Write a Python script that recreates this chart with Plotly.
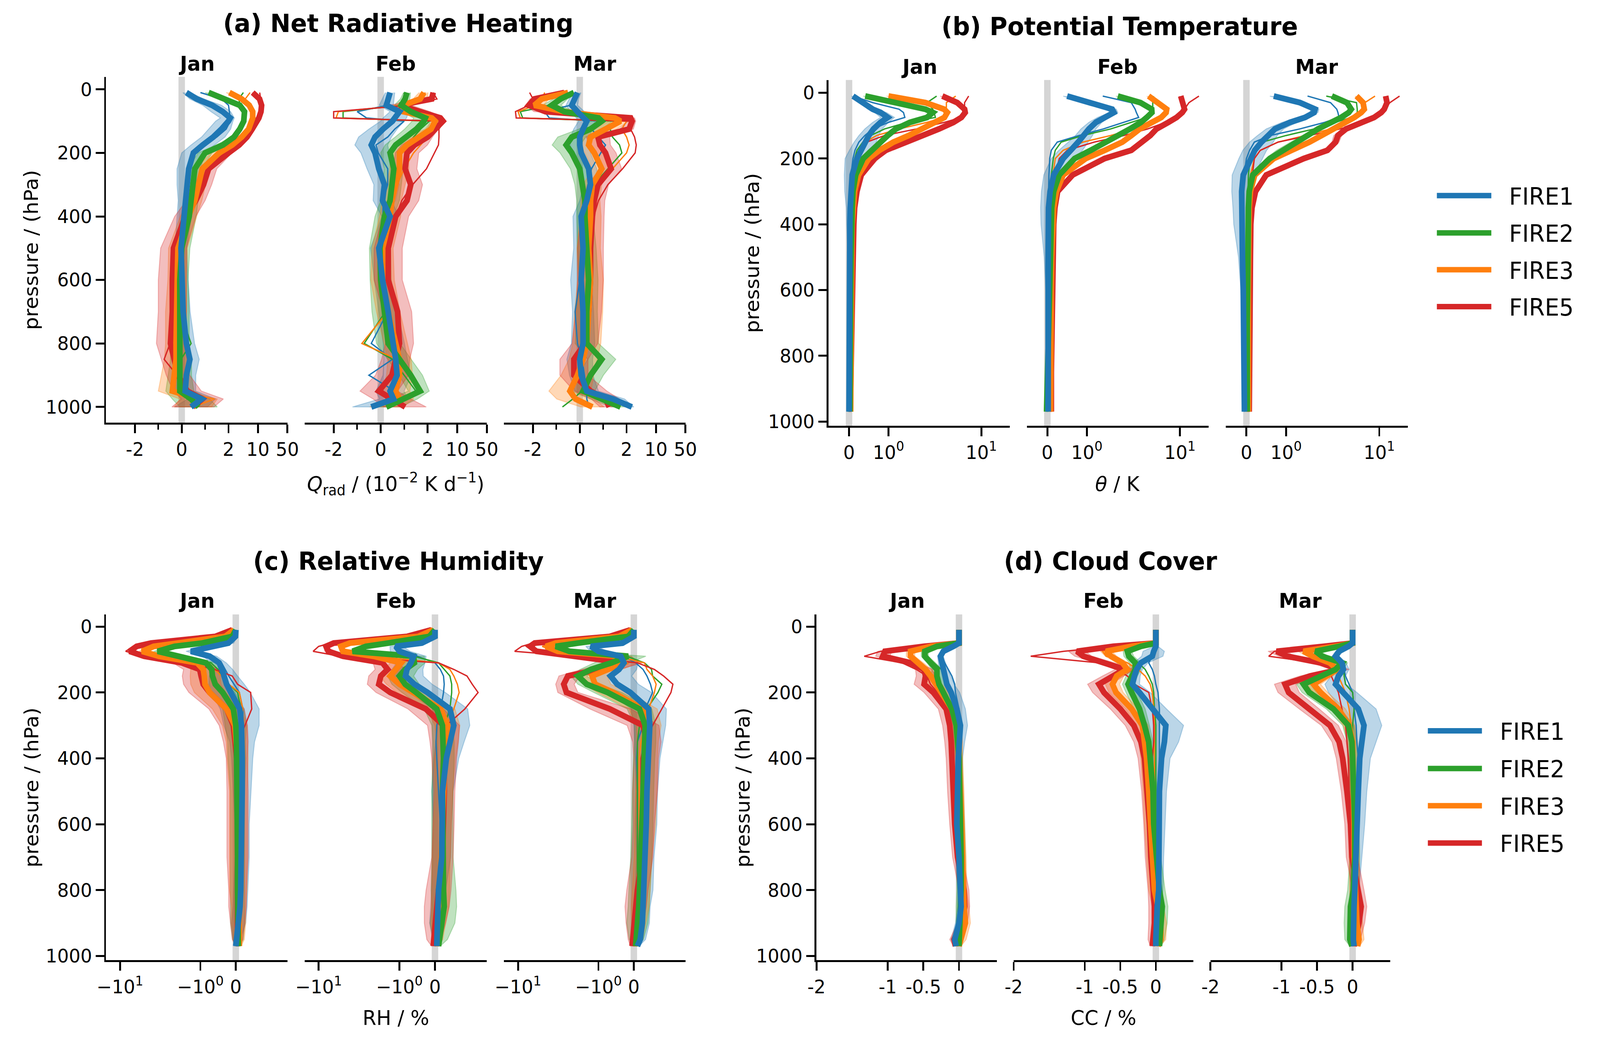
import numpy as np
import plotly.graph_objects as go

W, H = 4205, 2683
FONT = "DejaVu Sans"

SERIES = ["FIRE1", "FIRE2", "FIRE3", "FIRE5"]
COLORS = [(31, 119, 180), (44, 160, 44), (255, 127, 14), (214, 39, 40)]
MONTHS = ["Jan", "Feb", "Mar"]

# pressure levels (hPa)
LEV_A = [10, 30, 50, 70, 90, 100, 125, 150, 175, 200, 250, 300, 350, 400, 500, 600, 700, 800, 850, 900, 950, 975, 1000]
LEV_B = [10, 30, 50, 60, 75, 90, 110, 130, 150, 175, 200, 250, 300, 350, 400, 500, 600, 700, 800, 850, 900, 950, 970]

# ---- (a) net radiative heating, 1e-2 K/d ; rows = FIRE1, FIRE2, FIRE3, FIRE5
QRAD_JAN_MEAN = [
    [0.2, 0.64, 1.3, 1.75, 2.2, 2.0, 1.7, 1.35, 0.9, 0.5, 0.3, 0.25, 0.2, 0.1, -0.03, 0.03, 0.06, 0.2, 0.35, 0.2, 0.15, 0.85, 0.4],
    [1.15, 1.9, 3.7, 4.8, 4.8, 4.6, 3.7, 2.7, 1.76, 1.0, 0.56, 0.48, 0.45, 0.32, 0.0, -0.08, -0.08, -0.08, -0.03, -0.08, -0.08, 0.4, 0.72],
    [2.1, 4.1, 6.2, 7.5, 7.5, 7.2, 6.0, 4.1, 2.45, 1.6, 0.88, 0.72, 0.56, 0.29, -0.16, -0.19, -0.24, -0.24, -0.24, -0.32, -0.4, 0.72, 0.48],
    [7.5, 10.9, 12.2, 11.8, 10.5, 9.6, 7.3, 5.5, 3.6, 2.0, 1.15, 0.93, 0.6, 0.15, -0.35, -0.4, -0.4, -0.48, -0.32, -0.16, 0.24, 0.88, 0.48],
]
QRAD_JAN_THIN = [
    [0.8, 1.7, 2.0, 2.1, 2.2, 2.2, 1.9, 1.5, 1.0, 0.55, 0.3, 0.25, 0.2, 0.1, -0.03, 0.03, 0.06, 0.2, 0.35, 0.2, 0.1, 0.7, 0.4],
    [4.5, 3.5, 3.8, 4.8, 4.8, 4.6, 3.7, 2.7, 1.76, 1.0, 0.56, 0.48, 0.45, 0.32, 0.0, -0.08, -0.08, 0.4, -0.03, -0.08, -0.08, 0.4, 0.72],
    [6.5, 5.0, 6.2, 7.5, 7.5, 7.2, 6.0, 4.1, 2.45, 1.6, 0.88, 0.72, 0.56, 0.29, -0.16, -0.19, -0.24, -0.24, -0.24, -0.32, -0.4, 1.4, 0.48],
    [11.0, 11.5, 12.2, 11.8, 10.5, 9.6, 7.3, 5.5, 3.6, 2.0, 1.15, 0.93, 0.6, 0.15, -0.35, -0.4, -0.4, -0.5, -0.75, -0.2, 0.24, 0.88, 0.48],
]
QRAD_JAN_SPREAD = [
    [0.15, 0.3, 0.4, 0.5, 0.55, 0.55, 0.55, 0.5, 0.5, 0.5, 0.5, 0.45, 0.35, 0.3, 0.25, 0.25, 0.3, 0.35, 0.4, 0.4, 0.45, 0.6, 0.7],
    [0.15, 0.2, 0.3, 0.35, 0.4, 0.4, 0.35, 0.3, 0.3, 0.3, 0.3, 0.25, 0.25, 0.3, 0.35, 0.35, 0.4, 0.4, 0.45, 0.5, 0.6, 0.8, 0.8],
    [0.2, 0.3, 0.4, 0.5, 0.5, 0.5, 0.5, 0.45, 0.4, 0.35, 0.3, 0.3, 0.3, 0.35, 0.4, 0.4, 0.45, 0.45, 0.5, 0.55, 0.6, 0.8, 0.8],
    [0.3, 0.5, 0.6, 0.6, 0.6, 0.6, 0.6, 0.5, 0.45, 0.4, 0.35, 0.35, 0.4, 0.45, 0.55, 0.6, 0.6, 0.6, 0.55, 0.5, 0.6, 0.9, 0.9],
]
QRAD_FEB_MEAN = [
    [0.4, 0.32, 0.24, 0.8, 0.6, 0.5, 0.1, -0.24, -0.4, -0.24, -0.08, 0.16, 0.08, 0.4, -0.08, 0.08, 0.32, 0.56, 0.64, 0.7, 0.4, 0.55, -0.4],
    [1.12, 1.04, 0.88, 1.28, 1.9, 1.84, 1.52, 1.12, 0.64, 0.4, 0.56, 0.48, 0.4, 0.16, -0.03, 0.0, 0.13, 0.32, 0.8, 1.28, 1.68, 0.96, 0.24],
    [1.84, 1.68, 0.96, 0.96, 2.5, 3.0, 2.4, 1.6, 1.12, 0.8, 0.8, 0.64, 0.48, 0.4, 0.08, 0.08, 0.32, 0.64, 0.8, 0.8, 0.64, 0.8, 0.24],
    [2.7, 2.5, 0.8, 1.76, 4.0, 4.6, 3.0, 2.0, 1.44, 1.12, 1.04, 1.28, 1.12, 0.64, 0.32, 0.32, 0.72, 0.8, 0.64, 0.48, -0.08, 0.48, 1.04],
]
QRAD_FEB_THIN = [
    [0.4, 0.32, 0.3, -1.0, -0.6, 1.0, 0.6, 0.3, -0.2, -0.1, 0.3, 0.3, 0.1, 0.1, 0.0, 0.1, 0.3, -0.4, 0.5, -0.5, 0.6, 0.5, -0.3],
    [1.0, 1.0, 0.9, -1.6, -1.6, 2.2, 1.7, 1.4, 1.2, 0.9, 0.7, 0.5, 0.45, 0.2, 0.0, 0.0, 0.2, -0.7, 0.5, 1.0, 1.5, 0.9, 0.3],
    [1.9, 1.7, 1.0, -1.8, -1.9, 3.3, 2.8, 2.0, 1.7, 1.4, 1.0, 0.7, 0.5, 0.4, 0.1, 0.1, 0.3, -0.8, 0.7, 0.8, 0.6, 0.8, 0.3],
    [2.7, 3.3, 1.2, -2.0, -2.0, 4.8, 3.7, 3.7, 3.6, 2.9, 1.95, 1.36, 0.9, 0.64, 0.3, 0.3, 0.7, 0.8, 0.6, 0.4, -0.1, 0.5, 1.0],
]
QRAD_FEB_SPREAD = [
    [0.2, 0.25, 0.3, 0.4, 0.5, 0.5, 0.6, 0.7, 0.7, 0.6, 0.5, 0.45, 0.4, 0.35, 0.35, 0.35, 0.4, 0.45, 0.5, 0.6, 0.6, 0.6, 0.8],
    [0.15, 0.2, 0.3, 0.4, 0.5, 0.5, 0.5, 0.5, 0.45, 0.4, 0.4, 0.4, 0.4, 0.4, 0.45, 0.45, 0.5, 0.5, 0.5, 0.5, 0.5, 0.6, 0.6],
    [0.2, 0.3, 0.4, 0.4, 0.5, 0.5, 0.5, 0.5, 0.45, 0.4, 0.4, 0.4, 0.4, 0.45, 0.45, 0.5, 0.5, 0.5, 0.5, 0.55, 0.6, 0.6, 0.7],
    [0.3, 0.4, 0.5, 0.5, 0.6, 0.6, 0.6, 0.6, 0.55, 0.5, 0.5, 0.5, 0.5, 0.55, 0.6, 0.6, 0.6, 0.6, 0.6, 0.7, 0.8, 0.8, 0.9],
]
QRAD_MAR_MEAN = [
    [-0.1, -0.25, -0.34, -0.1, 0.2, 0.3, 0.14, 0.0, 0.0, 0.06, 0.38, 0.46, 0.3, 0.06, 0.14, 0.06, 0.14, 0.14, 0.0, 0.06, 0.3, 1.42, 2.67],
    [-0.25, -0.82, -1.2, -0.66, 0.8, 0.94, 0.46, -0.34, -0.58, -0.34, 0.0, 0.14, 0.22, 0.22, 0.3, 0.38, 0.3, 0.3, 0.94, 0.46, 0.14, 0.94, 1.74],
    [-0.5, -1.62, -1.94, -0.66, 1.5, 1.74, 1.1, 0.46, 0.38, 0.62, 0.94, 0.54, 0.46, 0.46, 0.38, 0.46, 0.38, 0.3, 0.14, -0.1, -0.42, -0.18, 0.54],
    [-0.66, -1.94, -2.5, -1.46, 2.5, 2.7, 2.3, 0.78, 0.86, 1.1, 1.34, 0.78, 0.62, 0.54, 0.46, 0.46, 0.38, 0.22, -0.25, -0.25, 0.46, 1.1, 1.26],
]
QRAD_MAR_THIN = [
    [-0.2, -0.3, -0.4, -1.5, -1.3, 0.8, 0.5, 0.8, 1.1, 0.9, 0.5, 0.35, 0.2, 0.1, 0.14, 0.0, -0.2, -0.1, 0.1, 0.2, 0.3, 0.3, 0.4],
    [-0.3, -0.8, -1.2, -4.0, -3.5, 1.5, 1.3, 1.4, 1.7, 1.8, 1.2, 0.6, 0.4, 0.3, 0.3, 0.35, 0.3, 0.3, 0.8, 0.4, 0.1, -0.3, -0.74],
    [-1.5, -1.6, -1.9, -4.5, -4.0, 2.0, 1.8, 2.0, 2.3, 2.0, 1.4, 0.7, 0.5, 0.46, 0.38, 0.46, 0.38, 0.3, 0.14, -0.1, -0.42, -0.18, 0.54],
    [-2.4, -2.0, -2.5, -5.2, -5.0, 2.7, 2.5, 3.1, 3.4, 3.2, 1.83, 1.2, 0.8, 0.6, 0.46, 0.46, 0.38, 0.22, -0.25, -0.25, 0.46, 1.1, 1.26],
]
QRAD_MAR_SPREAD = [
    [0.15, 0.2, 0.25, 0.3, 0.35, 0.35, 0.4, 0.4, 0.4, 0.4, 0.35, 0.3, 0.3, 0.35, 0.4, 0.45, 0.45, 0.5, 0.55, 0.5, 0.5, 0.5, 0.3],
    [0.15, 0.3, 0.4, 0.4, 0.45, 0.45, 0.5, 0.6, 0.6, 0.5, 0.4, 0.35, 0.35, 0.35, 0.4, 0.4, 0.45, 0.5, 0.6, 0.55, 0.5, 0.5, 0.4],
    [0.2, 0.3, 0.4, 0.4, 0.5, 0.5, 0.5, 0.45, 0.4, 0.4, 0.4, 0.4, 0.4, 0.45, 0.5, 0.55, 0.6, 0.6, 0.6, 0.7, 0.9, 0.8, 0.5],
    [0.2, 0.4, 0.5, 0.5, 0.6, 0.6, 0.6, 0.5, 0.45, 0.45, 0.45, 0.45, 0.45, 0.5, 0.55, 0.55, 0.55, 0.55, 0.6, 0.6, 0.7, 0.6, 0.4],
]

# ---- (b) potential temperature, K
THETA_JAN_MEAN = [
    [0.1, 0.36, 0.6, 0.8, 0.98, 0.8, 0.62, 0.5, 0.41, 0.31, 0.2, 0.08, 0.04, 0.03, 0.02, 0.02, 0.01, 0.0, -0.01, -0.01, 0.0, 0.0, 0.0],
    [0.41, 1.13, 2.5, 3.0, 2.6, 1.7, 1.2, 0.98, 0.79, 0.55, 0.36, 0.17, 0.1, 0.08, 0.06, 0.05, 0.04, 0.03, 0.02, 0.02, 0.02, 0.02, 0.02],
    [1.0, 2.5, 3.97, 4.3, 4.0, 3.2, 2.3, 1.65, 1.13, 0.77, 0.5, 0.24, 0.14, 0.1, 0.08, 0.07, 0.06, 0.05, 0.05, 0.04, 0.04, 0.04, 0.04],
    [3.8, 5.5, 6.6, 6.7, 6.1, 5.0, 3.5, 2.3, 1.43, 0.93, 0.65, 0.31, 0.2, 0.14, 0.12, 0.1, 0.08, 0.06, 0.05, 0.04, 0.03, 0.03, 0.03],
]
THETA_JAN_THIN = [
    [0.1, 0.6, 1.3, 1.45, 1.5, 1.0, 0.6, 0.4, 0.25, 0.15, 0.1, 0.05, 0.04, 0.03, 0.02, 0.02, 0.01, 0.0, -0.01, -0.01, 0.0, 0.0, 0.0],
    [3.3, 2.6, 3.0, 3.1, 3.2, 1.6, 0.9, 0.55, 0.35, 0.2, 0.14, 0.1, 0.08, 0.07, 0.06, 0.05, 0.04, 0.03, 0.02, 0.02, 0.02, 0.02, 0.02],
    [5.3, 4.2, 4.2, 4.3, 4.0, 2.6, 1.3, 0.7, 0.4, 0.25, 0.18, 0.12, 0.1, 0.09, 0.08, 0.07, 0.06, 0.05, 0.05, 0.04, 0.04, 0.04, 0.04],
    [7.3, 6.6, 6.6, 6.7, 6.1, 4.0, 2.0, 0.9, 0.45, 0.28, 0.2, 0.14, 0.12, 0.12, 0.11, 0.1, 0.08, 0.06, 0.05, 0.04, 0.03, 0.03, 0.03],
]
THETA_JAN_SPREAD = [
    [0.04, 0.08, 0.12, 0.15, 0.18, 0.2, 0.22, 0.25, 0.28, 0.3, 0.3, 0.2, 0.15, 0.1, 0.08, 0.05, 0.04, 0.03, 0.02, 0.02, 0.02, 0.02, 0.02],
    [0.05, 0.08, 0.15, 0.2, 0.2, 0.15, 0.12, 0.1, 0.08, 0.07, 0.05, 0.04, 0.03, 0.03, 0.02, 0.02, 0.02, 0.02, 0.02, 0.02, 0.02, 0.02, 0.02],
    [0.05, 0.15, 0.2, 0.25, 0.25, 0.2, 0.15, 0.12, 0.1, 0.08, 0.06, 0.04, 0.03, 0.03, 0.02, 0.02, 0.02, 0.02, 0.02, 0.02, 0.02, 0.02, 0.02],
    [0.2, 0.3, 0.4, 0.4, 0.4, 0.35, 0.3, 0.2, 0.15, 0.12, 0.1, 0.06, 0.04, 0.03, 0.03, 0.02, 0.02, 0.02, 0.02, 0.02, 0.02, 0.02, 0.02],
]
THETA_FEB_MEAN = [
    [0.5, 1.07, 1.87, 1.95, 1.5, 1.25, 1.05, 0.93, 0.78, 0.59, 0.4, 0.16, 0.07, 0.03, 0.02, 0.02, 0.02, 0.02, 0.02, 0.02, 0.02, 0.02, 0.02],
    [2.15, 3.76, 4.97, 5.0, 4.4, 3.8, 2.9, 2.2, 1.6, 1.1, 0.69, 0.3, 0.16, 0.11, 0.1, 0.07, 0.04, 0.02, 0.0, -0.01, -0.02, -0.02, -0.02],
    [4.6, 5.9, 7.2, 7.1, 6.3, 5.0, 3.7, 3.0, 2.4, 1.55, 0.97, 0.4, 0.23, 0.16, 0.14, 0.11, 0.1, 0.1, 0.09, 0.09, 0.08, 0.08, 0.08],
    [10.2, 10.8, 11.2, 10.6, 9.2, 7.5, 5.6, 4.8, 3.95, 3.0, 1.55, 0.64, 0.26, 0.19, 0.16, 0.14, 0.12, 0.11, 0.1, 0.1, 0.1, 0.1, 0.1],
]
THETA_FEB_THIN = [
    [1.48, 3.0, 3.3, 3.4, 3.6, 2.5, 1.5, 0.8, 0.25, 0.1, 0.06, 0.04, 0.03, 0.02, 0.02, 0.02, 0.02, 0.02, 0.02, 0.02, 0.02, 0.02, 0.02],
    [5.2, 5.1, 5.1, 5.0, 4.4, 3.0, 1.8, 0.9, 0.35, 0.2, 0.15, 0.1, 0.08, 0.07, 0.06, 0.05, 0.04, 0.02, 0.0, -0.01, -0.02, -0.02, -0.02],
    [4.6, 5.9, 7.2, 7.1, 6.3, 5.0, 3.2, 1.8, 0.9, 0.4, 0.2, 0.14, 0.12, 0.11, 0.1, 0.1, 0.1, 0.1, 0.09, 0.09, 0.08, 0.08, 0.08],
    [16.0, 12.5, 11.2, 10.6, 9.2, 7.0, 4.5, 2.5, 1.2, 0.5, 0.3, 0.2, 0.16, 0.14, 0.13, 0.12, 0.12, 0.11, 0.1, 0.1, 0.1, 0.1, 0.1],
]
THETA_FEB_SPREAD = [
    [0.1, 0.15, 0.2, 0.2, 0.2, 0.2, 0.2, 0.22, 0.25, 0.3, 0.3, 0.25, 0.22, 0.2, 0.18, 0.1, 0.06, 0.04, 0.03, 0.02, 0.02, 0.02, 0.02],
    [0.1, 0.2, 0.25, 0.25, 0.25, 0.25, 0.2, 0.15, 0.12, 0.1, 0.08, 0.05, 0.04, 0.03, 0.03, 0.02, 0.02, 0.02, 0.02, 0.02, 0.02, 0.02, 0.02],
    [0.2, 0.3, 0.35, 0.35, 0.3, 0.3, 0.25, 0.2, 0.15, 0.12, 0.1, 0.06, 0.04, 0.03, 0.03, 0.02, 0.02, 0.02, 0.02, 0.02, 0.02, 0.02, 0.02],
    [0.4, 0.5, 0.5, 0.5, 0.5, 0.45, 0.4, 0.35, 0.3, 0.2, 0.15, 0.08, 0.05, 0.04, 0.03, 0.02, 0.02, 0.02, 0.02, 0.02, 0.02, 0.02, 0.02],
]
THETA_MAR_MEAN = [
    [0.69, 1.41, 2.05, 2.0, 1.6, 1.1, 0.72, 0.53, 0.38, 0.21, 0.11, -0.08, -0.12, -0.12, -0.12, -0.1, -0.08, -0.07, -0.06, -0.06, -0.05, -0.05, -0.05],
    [3.1, 4.5, 5.0, 4.7, 3.9, 3.0, 2.2, 1.7, 1.3, 0.88, 0.59, 0.16, 0.07, 0.05, 0.04, 0.03, 0.03, 0.02, 0.02, 0.02, 0.02, 0.02, 0.02],
    [5.7, 6.7, 6.9, 6.4, 5.4, 4.4, 3.2, 2.4, 1.78, 1.17, 0.69, 0.21, 0.1, 0.07, 0.06, 0.05, 0.05, 0.05, 0.05, 0.05, 0.05, 0.05, 0.05],
    [11.7, 12.1, 11.3, 10.5, 8.8, 6.5, 4.4, 3.6, 3.4, 2.78, 1.55, 0.5, 0.23, 0.14, 0.11, 0.1, 0.1, 0.09, 0.08, 0.08, 0.07, 0.07, 0.07],
]
THETA_MAR_THIN = [
    [1.7, 3.0, 3.5, 3.6, 3.7, 2.6, 1.4, 0.6, 0.2, 0.08, 0.0, -0.06, -0.1, -0.12, -0.12, -0.1, -0.08, -0.07, -0.06, -0.06, -0.05, -0.05, -0.05],
    [2.7, 5.7, 5.8, 5.8, 5.0, 3.4, 2.0, 1.0, 0.4, 0.2, 0.1, 0.05, 0.04, 0.04, 0.04, 0.03, 0.03, 0.02, 0.02, 0.02, 0.02, 0.02, 0.02],
    [9.0, 7.0, 6.9, 6.4, 5.4, 4.4, 3.0, 1.6, 0.8, 0.35, 0.2, 0.1, 0.08, 0.07, 0.06, 0.05, 0.05, 0.05, 0.05, 0.05, 0.05, 0.05, 0.05],
    [16.5, 13.0, 11.3, 10.5, 8.8, 6.5, 3.8, 1.8, 0.8, 0.35, 0.2, 0.15, 0.12, 0.11, 0.1, 0.1, 0.1, 0.09, 0.08, 0.08, 0.07, 0.07, 0.07],
]
THETA_MAR_SPREAD = [
    [0.1, 0.15, 0.2, 0.2, 0.2, 0.2, 0.22, 0.25, 0.3, 0.3, 0.3, 0.28, 0.25, 0.22, 0.2, 0.1, 0.06, 0.04, 0.03, 0.02, 0.02, 0.02, 0.02],
    [0.1, 0.2, 0.25, 0.25, 0.25, 0.25, 0.22, 0.2, 0.18, 0.12, 0.1, 0.05, 0.04, 0.03, 0.03, 0.02, 0.02, 0.02, 0.02, 0.02, 0.02, 0.02, 0.02],
    [0.2, 0.3, 0.35, 0.35, 0.35, 0.3, 0.3, 0.25, 0.2, 0.15, 0.1, 0.05, 0.04, 0.03, 0.03, 0.02, 0.02, 0.02, 0.02, 0.02, 0.02, 0.02, 0.02],
    [0.5, 0.5, 0.5, 0.5, 0.5, 0.45, 0.4, 0.35, 0.3, 0.25, 0.15, 0.08, 0.05, 0.04, 0.03, 0.02, 0.02, 0.02, 0.02, 0.02, 0.02, 0.02, 0.02],
]

# ---- (c) relative humidity, %
RH_JAN_MEAN = [
    [0.0, -0.01, -0.21, -0.68, -1.31, -0.74, -0.47, -0.39, -0.35, -0.26, -0.14, 0.11, 0.16, 0.18, 0.18, 0.18, 0.18, 0.18, 0.14, 0.12, 0.08, 0.03, 0.0],
    [0.0, -0.1, -0.95, -2.1, -3.4, -1.9, -0.84, -0.68, -0.66, -0.58, -0.37, -0.07, 0.0, 0.02, 0.03, 0.05, 0.05, 0.05, 0.05, 0.05, 0.05, 0.06, 0.07],
    [-0.05, -0.3, -1.9, -3.8, -5.3, -3.25, -1.1, -0.92, -0.89, -0.87, -0.74, -0.26, -0.03, 0.03, 0.05, 0.07, 0.07, 0.07, 0.07, 0.08, 0.08, 0.09, 0.1],
    [-0.1, -0.58, -4.1, -6.2, -7.6, -5.0, -1.7, -1.02, -0.98, -0.92, -0.74, -0.26, -0.07, 0.0, 0.03, 0.05, 0.05, 0.05, 0.05, 0.05, 0.05, 0.05, 0.05],
]
RH_JAN_THIN = [
    [0.0, -0.02, -0.25, -0.7, -1.3, -0.7, -0.4, -0.3, -0.2, -0.05, 0.1, 0.2, 0.2, 0.18, 0.18, 0.18, 0.18, 0.18, 0.14, 0.12, 0.08, 0.03, 0.0],
    [0.0, -0.1, -0.95, -2.1, -3.4, -1.9, -0.7, -0.5, -0.4, -0.2, 0.05, 0.15, 0.08, 0.03, 0.03, 0.05, 0.05, 0.05, 0.05, 0.05, 0.05, 0.06, 0.07],
    [-0.05, -0.3, -1.9, -3.8, -5.3, -3.0, -0.9, -0.6, -0.4, -0.2, 0.1, 0.2, 0.1, 0.05, 0.05, 0.07, 0.07, 0.07, 0.07, 0.08, 0.08, 0.09, 0.1],
    [-0.1, -0.6, -4.5, -6.8, -8.5, -5.0, -1.5, -0.6, -0.1, 0.05, 0.42, 0.45, 0.26, 0.05, 0.03, 0.05, 0.05, 0.05, 0.05, 0.05, 0.05, 0.05, 0.05],
]
RH_JAN_SPREAD = [
    [0.02, 0.05, 0.15, 0.2, 0.2, 0.2, 0.2, 0.3, 0.4, 0.5, 0.55, 0.55, 0.5, 0.35, 0.3, 0.25, 0.2, 0.2, 0.2, 0.2, 0.2, 0.1, 0.05],
    [0.02, 0.05, 0.2, 0.3, 0.4, 0.3, 0.3, 0.35, 0.35, 0.35, 0.35, 0.3, 0.3, 0.25, 0.25, 0.2, 0.2, 0.2, 0.2, 0.2, 0.2, 0.15, 0.05],
    [0.02, 0.1, 0.3, 0.4, 0.5, 0.4, 0.35, 0.4, 0.45, 0.45, 0.45, 0.4, 0.35, 0.3, 0.3, 0.25, 0.25, 0.25, 0.25, 0.2, 0.2, 0.15, 0.05],
    [0.02, 0.1, 0.4, 0.6, 0.8, 0.6, 0.5, 0.6, 0.7, 0.7, 0.65, 0.5, 0.4, 0.35, 0.3, 0.3, 0.3, 0.3, 0.25, 0.25, 0.2, 0.15, 0.05],
]
RH_FEB_MEAN = [
    [0.0, 0.0, -0.37, -1.11, -1.0, -0.6, -0.68, -0.79, -0.83, -0.58, -0.21, 0.42, 0.53, 0.42, 0.32, 0.21, 0.21, 0.19, 0.1, 0.08, 0.05, 0.03, 0.05],
    [0.0, -0.16, -1.38, -2.6, -3.8, -0.6, -0.58, -0.84, -1.0, -0.84, -0.53, 0.05, 0.21, 0.24, 0.24, 0.21, 0.21, 0.21, 0.24, 0.26, 0.21, 0.15, 0.1],
    [-0.05, -0.47, -4.1, -5.3, -5.0, -2.1, -0.95, -1.13, -1.3, -1.0, -0.63, 0.16, 0.35, 0.35, 0.28, 0.25, 0.21, 0.18, 0.16, 0.14, 0.1, 0.07, 0.05],
    [-0.1, -0.79, -6.5, -8.1, -7.6, -5.0, -1.62, -1.4, -1.7, -1.8, -1.3, -0.26, 0.24, 0.26, 0.26, 0.26, 0.24, 0.21, 0.1, 0.05, 0.0, -0.03, -0.05],
]
RH_FEB_THIN = [
    [0.0, 0.0, -0.4, -1.1, -1.0, -0.5, 0.0, 0.15, 0.24, 0.26, 0.24, 0.16, 0.05, 0.03, 0.05, 0.1, 0.15, 0.15, 0.1, 0.08, 0.05, 0.03, 0.05],
    [0.0, -0.16, -1.4, -2.6, -3.8, -0.6, 0.1, 0.26, 0.42, 0.47, 0.47, 0.42, 0.26, 0.24, 0.24, 0.21, 0.21, 0.21, 0.24, 0.26, 0.21, 0.15, 0.1],
    [-0.05, -0.5, -4.1, -5.3, -5.0, -2.0, 0.1, 0.42, 0.53, 0.63, 0.68, 0.53, 0.32, 0.3, 0.28, 0.25, 0.21, 0.18, 0.16, 0.14, 0.1, 0.07, 0.05],
    [-0.1, -0.8, -7.0, -10.0, -11.7, -5.5, 0.1, 0.53, 0.9, 1.05, 1.24, 0.84, 0.32, 0.26, 0.26, 0.26, 0.24, 0.21, 0.1, 0.05, 0.0, -0.03, -0.05],
]
RH_FEB_SPREAD = [
    [0.02, 0.05, 0.15, 0.2, 0.3, 0.35, 0.4, 0.45, 0.5, 0.5, 0.5, 0.5, 0.45, 0.4, 0.35, 0.3, 0.25, 0.25, 0.2, 0.2, 0.2, 0.1, 0.05],
    [0.02, 0.05, 0.2, 0.3, 0.4, 0.3, 0.3, 0.35, 0.4, 0.4, 0.4, 0.35, 0.3, 0.3, 0.3, 0.3, 0.3, 0.3, 0.35, 0.35, 0.35, 0.2, 0.05],
    [0.02, 0.1, 0.3, 0.4, 0.5, 0.4, 0.35, 0.4, 0.45, 0.45, 0.45, 0.4, 0.35, 0.3, 0.3, 0.25, 0.25, 0.25, 0.25, 0.25, 0.2, 0.15, 0.05],
    [0.02, 0.1, 0.4, 0.6, 0.8, 0.6, 0.5, 0.6, 0.7, 0.7, 0.65, 0.5, 0.45, 0.4, 0.35, 0.3, 0.3, 0.3, 0.35, 0.35, 0.3, 0.2, 0.05],
]
RH_MAR_MEAN = [
    [0.0, 0.0, -0.32, -1.24, -1.0, -0.37, -0.28, -0.42, -0.66, -0.47, -0.1, 0.42, 0.45, 0.42, 0.39, 0.37, 0.35, 0.32, 0.29, 0.26, 0.24, 0.18, 0.1],
    [0.0, -0.16, -1.8, -3.4, -2.3, -0.16, -0.63, -1.24, -1.8, -1.4, -0.74, 0.16, 0.32, 0.32, 0.29, 0.26, 0.24, 0.21, 0.16, 0.14, 0.1, 0.07, 0.05],
    [-0.05, -0.42, -3.4, -4.5, -3.2, -0.47, -0.28, -0.79, -1.2, -1.1, -0.58, 0.26, 0.42, 0.39, 0.37, 0.35, 0.32, 0.26, 0.21, 0.18, 0.14, 0.1, 0.05],
    [-0.1, -0.68, -6.2, -7.1, -5.9, -1.9, -0.26, -1.0, -2.4, -2.7, -2.5, -0.68, 0.26, 0.37, 0.35, 0.32, 0.28, 0.24, 0.1, 0.05, 0.03, -0.01, -0.05],
]
RH_MAR_THIN = [
    [0.0, 0.0, -0.35, -1.2, -1.0, -0.3, 0.05, 0.26, 0.37, 0.47, 0.53, 0.32, 0.26, 0.1, 0.08, 0.1, 0.1, 0.1, 0.1, 0.1, 0.1, 0.1, 0.1],
    [0.0, -0.16, -1.8, -3.4, -2.3, -0.2, 0.3, 0.5, 0.53, 0.79, 0.68, 0.37, 0.16, 0.1, 0.1, 0.1, 0.1, 0.1, 0.1, 0.1, 0.08, 0.06, 0.05],
    [-0.05, -0.45, -3.6, -5.0, -3.5, -0.5, 0.3, 0.37, 0.53, 0.63, 0.58, 0.42, 0.32, 0.2, 0.15, 0.15, 0.15, 0.15, 0.15, 0.12, 0.1, 0.08, 0.05],
    [-0.1, -0.7, -6.5, -9.0, -11.0, -2.0, 0.1, 0.58, 0.84, 1.11, 1.05, 0.79, 0.53, 0.3, 0.2, 0.2, 0.2, 0.15, 0.1, 0.05, 0.03, -0.01, -0.05],
]
RH_MAR_SPREAD = [
    [0.02, 0.05, 0.15, 0.2, 0.25, 0.3, 0.4, 0.5, 0.6, 0.6, 0.6, 0.5, 0.45, 0.4, 0.35, 0.3, 0.3, 0.25, 0.25, 0.2, 0.2, 0.15, 0.05],
    [0.02, 0.05, 0.2, 0.3, 0.4, 0.5, 0.5, 0.45, 0.4, 0.4, 0.4, 0.35, 0.3, 0.3, 0.3, 0.3, 0.3, 0.3, 0.3, 0.3, 0.3, 0.2, 0.05],
    [0.02, 0.1, 0.3, 0.4, 0.4, 0.4, 0.4, 0.45, 0.45, 0.45, 0.45, 0.4, 0.35, 0.3, 0.3, 0.3, 0.3, 0.25, 0.25, 0.25, 0.2, 0.15, 0.05],
    [0.02, 0.1, 0.4, 0.6, 0.7, 0.6, 0.5, 0.6, 0.7, 0.7, 0.7, 0.6, 0.45, 0.4, 0.35, 0.35, 0.3, 0.3, 0.3, 0.3, 0.25, 0.15, 0.05],
]

# ---- (d) cloud cover, %
CC_JAN_MEAN = [
    [0.0, 0.0, 0.0, -0.08, -0.22, -0.26, -0.24, -0.22, -0.2, -0.17, -0.11, -0.03, 0.02, 0.0, -0.01, -0.02, -0.03, 0.0, 0.03, 0.03, 0.0, -0.06, -0.04],
    [0.0, 0.0, 0.0, -0.31, -0.48, -0.48, -0.39, -0.31, -0.31, -0.28, -0.22, -0.1, -0.04, -0.02, 0.0, 0.01, 0.03, 0.03, 0.03, 0.02, 0.02, 0.0, 0.0],
    [0.0, 0.0, 0.0, -0.39, -0.68, -0.68, -0.57, -0.47, -0.4, -0.33, -0.24, -0.1, -0.04, -0.01, 0.0, 0.02, 0.03, 0.04, 0.05, 0.07, 0.09, 0.04, 0.0],
    [0.0, 0.0, 0.0, -0.49, -1.04, -1.07, -0.68, -0.49, -0.47, -0.49, -0.36, -0.18, -0.13, -0.11, -0.1, -0.09, -0.06, -0.02, 0.07, 0.08, 0.05, -0.07, -0.05],
]
CC_JAN_THIN = [
    [0.0, 0.0, 0.0, -0.08, -0.2, -0.24, -0.2, -0.15, -0.1, -0.06, -0.05, 0.0, 0.03, 0.02, 0.0, -0.01, -0.02, 0.0, 0.03, 0.03, 0.0, -0.05, -0.04],
    [0.0, 0.0, 0.0, -0.3, -0.45, -0.45, -0.35, -0.25, -0.2, -0.15, -0.1, -0.05, 0.0, 0.0, 0.0, 0.01, 0.03, 0.03, 0.03, 0.02, 0.02, 0.0, 0.0],
    [0.0, 0.0, 0.0, -0.4, -0.7, -0.7, -0.55, -0.45, -0.35, -0.28, -0.2, -0.08, -0.03, -0.01, 0.0, 0.02, 0.03, 0.04, 0.05, 0.07, 0.09, 0.04, 0.0],
    [0.0, 0.0, 0.0, -0.5, -1.1, -1.33, -0.8, -0.6, -0.45, -0.4, -0.3, -0.15, -0.1, -0.1, -0.1, -0.09, -0.06, -0.02, 0.07, 0.08, 0.05, -0.1, -0.05],
]
CC_JAN_SPREAD = [
    [0.0, 0.0, 0.0, 0.02, 0.03, 0.04, 0.05, 0.06, 0.08, 0.1, 0.12, 0.12, 0.1, 0.08, 0.06, 0.05, 0.05, 0.05, 0.05, 0.05, 0.05, 0.05, 0.03],
    [0.0, 0.0, 0.0, 0.03, 0.05, 0.05, 0.06, 0.07, 0.08, 0.08, 0.08, 0.07, 0.06, 0.05, 0.05, 0.05, 0.05, 0.06, 0.06, 0.06, 0.06, 0.05, 0.03],
    [0.0, 0.0, 0.0, 0.04, 0.06, 0.06, 0.07, 0.08, 0.09, 0.09, 0.09, 0.08, 0.07, 0.06, 0.05, 0.05, 0.05, 0.06, 0.06, 0.07, 0.07, 0.06, 0.03],
    [0.0, 0.0, 0.0, 0.06, 0.1, 0.1, 0.1, 0.12, 0.13, 0.14, 0.13, 0.11, 0.1, 0.09, 0.08, 0.07, 0.07, 0.07, 0.07, 0.07, 0.07, 0.06, 0.03],
]
CC_FEB_MEAN = [
    [0.0, 0.0, 0.0, 0.0, -0.03, -0.05, -0.21, -0.27, -0.3, -0.33, -0.23, -0.05, 0.14, 0.12, 0.08, 0.05, 0.05, 0.05, 0.04, 0.02, 0.0, 0.0, 0.0],
    [0.0, 0.0, 0.0, -0.21, -0.4, -0.38, -0.29, -0.29, -0.34, -0.39, -0.34, -0.23, -0.16, -0.1, -0.08, -0.04, -0.03, 0.0, 0.05, 0.09, 0.08, 0.05, 0.05],
    [0.0, 0.0, 0.0, -0.34, -0.7, -0.63, -0.47, -0.4, -0.55, -0.61, -0.56, -0.34, -0.19, -0.16, -0.13, -0.1, -0.08, -0.05, -0.02, 0.03, 0.07, 0.07, 0.03],
    [0.0, 0.0, 0.0, -0.6, -1.11, -1.02, -0.7, -0.44, -0.6, -0.8, -0.73, -0.5, -0.31, -0.21, -0.16, -0.12, -0.09, -0.07, -0.03, -0.02, -0.02, -0.04, -0.05],
]
CC_FEB_THIN = [
    [0.0, 0.0, 0.0, 0.0, -0.03, -0.05, -0.1, -0.05, -0.02, 0.0, 0.03, 0.05, 0.05, 0.05, 0.05, 0.05, 0.05, 0.05, 0.04, 0.02, 0.0, 0.0, 0.0],
    [0.0, 0.0, 0.0, -0.2, -0.4, -0.38, -0.25, -0.15, -0.1, -0.05, -0.03, -0.02, 0.0, 0.0, 0.0, 0.0, 0.0, 0.02, 0.05, 0.09, 0.08, 0.05, 0.05],
    [0.0, 0.0, 0.0, -0.34, -0.75, -0.7, -0.4, -0.25, -0.15, -0.08, -0.05, -0.03, -0.02, -0.02, -0.02, -0.02, -0.02, 0.0, 0.03, 0.06, 0.08, 0.07, 0.03],
    [0.0, 0.0, 0.0, -0.6, -1.3, -1.76, -0.8, -0.55, -0.4, -0.3, -0.1, -0.05, -0.03, -0.03, -0.05, -0.06, -0.07, -0.05, 0.02, 0.05, 0.0, -0.04, -0.05],
]
CC_FEB_SPREAD = [
    [0.0, 0.0, 0.0, 0.03, 0.15, 0.15, 0.1, 0.08, 0.08, 0.1, 0.15, 0.2, 0.25, 0.2, 0.12, 0.1, 0.08, 0.06, 0.06, 0.06, 0.05, 0.05, 0.03],
    [0.0, 0.0, 0.0, 0.04, 0.06, 0.07, 0.08, 0.08, 0.08, 0.08, 0.08, 0.08, 0.07, 0.06, 0.06, 0.06, 0.06, 0.07, 0.08, 0.08, 0.08, 0.07, 0.03],
    [0.0, 0.0, 0.0, 0.05, 0.08, 0.08, 0.08, 0.09, 0.1, 0.1, 0.1, 0.09, 0.08, 0.08, 0.08, 0.08, 0.08, 0.08, 0.08, 0.08, 0.08, 0.07, 0.03],
    [0.0, 0.0, 0.0, 0.07, 0.12, 0.12, 0.12, 0.13, 0.15, 0.16, 0.16, 0.14, 0.12, 0.1, 0.09, 0.08, 0.08, 0.08, 0.08, 0.08, 0.08, 0.07, 0.03],
]
CC_MAR_MEAN = [
    [0.0, 0.0, 0.0, -0.06, -0.19, -0.24, -0.15, -0.13, -0.2, -0.24, -0.14, 0.08, 0.16, 0.13, 0.1, 0.08, 0.07, 0.05, 0.03, 0.02, 0.01, 0.01, 0.02],
    [0.0, 0.0, 0.0, -0.19, -0.52, -0.43, -0.15, -0.24, -0.43, -0.69, -0.61, -0.27, -0.06, -0.01, 0.0, 0.02, 0.03, 0.03, 0.01, -0.03, -0.04, -0.04, -0.01],
    [0.0, 0.0, 0.0, -0.24, -0.69, -0.56, -0.32, -0.22, -0.38, -0.55, -0.45, -0.2, -0.05, 0.0, 0.0, 0.02, 0.02, 0.02, 0.03, 0.04, 0.06, 0.09, 0.07],
    [0.0, 0.0, 0.0, -0.4, -1.07, -0.92, -0.45, -0.18, -0.6, -0.95, -0.9, -0.61, -0.32, -0.19, -0.14, -0.08, -0.03, -0.01, 0.08, 0.12, 0.09, 0.04, 0.02],
]
CC_MAR_THIN = [
    [0.0, 0.0, 0.0, -0.06, -0.19, -0.22, -0.15, -0.12, -0.1, -0.05, 0.0, 0.02, 0.05, 0.06, 0.08, 0.08, 0.07, 0.05, 0.03, 0.02, 0.01, 0.01, 0.02],
    [0.0, 0.0, 0.0, -0.19, -0.5, -0.43, -0.15, -0.12, -0.12, -0.1, 0.0, 0.02, 0.0, 0.0, 0.0, 0.02, 0.03, 0.03, 0.01, -0.03, -0.04, -0.04, -0.01],
    [0.0, 0.0, 0.0, -0.24, -0.69, -0.56, -0.3, -0.25, -0.2, -0.15, -0.1, -0.05, -0.02, 0.0, 0.0, 0.02, 0.02, 0.02, 0.03, 0.04, 0.06, 0.09, 0.07],
    [0.0, 0.0, 0.0, -0.4, -1.1, -1.18, -0.5, -0.2, -0.3, -0.25, -0.2, -0.15, -0.1, -0.08, -0.06, -0.05, -0.03, 0.0, 0.1, 0.1, 0.09, 0.04, 0.02],
]
CC_MAR_SPREAD = [
    [0.0, 0.0, 0.0, 0.03, 0.05, 0.05, 0.06, 0.08, 0.1, 0.15, 0.2, 0.25, 0.25, 0.2, 0.15, 0.12, 0.1, 0.08, 0.06, 0.05, 0.05, 0.05, 0.03],
    [0.0, 0.0, 0.0, 0.04, 0.07, 0.08, 0.08, 0.1, 0.1, 0.1, 0.1, 0.1, 0.08, 0.07, 0.07, 0.06, 0.06, 0.07, 0.08, 0.08, 0.08, 0.07, 0.03],
    [0.0, 0.0, 0.0, 0.05, 0.08, 0.08, 0.08, 0.09, 0.1, 0.1, 0.1, 0.1, 0.08, 0.07, 0.07, 0.07, 0.07, 0.07, 0.07, 0.08, 0.08, 0.07, 0.03],
    [0.0, 0.0, 0.0, 0.07, 0.12, 0.12, 0.12, 0.13, 0.14, 0.15, 0.15, 0.14, 0.12, 0.1, 0.09, 0.08, 0.08, 0.08, 0.08, 0.08, 0.08, 0.07, 0.03],
]

# tick labels
QRAD_TICKS = [-2, 0, 2, 10, 50]
QRAD_TICKTEXT = ["-2", "0", "2", "10", "50"]
THETA_TICKS = [0, 1, 10]
THETA_TICKTEXT = ["0", "10<sup>0</sup>", "10<sup>1</sup>"]
RH_TICKS = [-10, -1, 0]
RH_TICKTEXT = ["\u221210<sup>1</sup>", "\u221210<sup>0</sup>", "0"]
CC_TICKS = [-2, -1, -0.5, 0]
CC_TICKTEXT = ["-2", "-1", "-0.5", "0"]
P_TICKS = [0, 200, 400, 600, 800, 1000]


def symlog(v, lin, s):
    v = np.asarray(v, dtype=float)
    a = np.abs(v)
    out = np.where(a <= lin, v / lin * s, np.sign(v) * (s + np.log10(np.maximum(a, 1e-12) / lin)))
    return out


def tf_qrad(v):
    return symlog(v, 2.0, 1.111)


def tf_theta(v):
    return symlog(v, 1.0, 0.425)


def tf_rh(v):
    return symlog(v, 1.0, 0.44)


def tf_cc(v):
    return np.asarray(v, dtype=float)


def rgba(c, a):
    return f"rgba({c[0]},{c[1]},{c[2]},{a})"


panels = [
    dict(title="<b>(a) Net Radiative Heating</b>", title_xy=(1036, 60), month_y=164,
         xlabel="<i>Q</i><sub>rad</sub> / (10<sup>\u22122</sup> K d<sup>\u22121</sup>)", xlabel_y=1247,
         ylabel_x=59, lev=LEV_A, tf=tf_qrad, xr=(-9.7, 50), ticks=QRAD_TICKS, ticktext=QRAD_TICKTEXT, minor=[-1, 1],
         cols=[(258, 741), (787, 1272), (1318, 1801)], rows=(198, 1089), yr=(1049.5, -39.5),
         mean=[QRAD_JAN_MEAN, QRAD_FEB_MEAN, QRAD_MAR_MEAN], thin=[QRAD_JAN_THIN, QRAD_FEB_THIN, QRAD_MAR_THIN],
         spread=[QRAD_JAN_SPREAD, QRAD_FEB_SPREAD, QRAD_MAR_SPREAD]),
    dict(title="<b>(b) Potential Temperature</b>", title_xy=(2957, 68), month_y=172,
         xlabel="<i>\u03b8</i> / K", xlabel_y=1247,
         ylabel_x=1979, lev=LEV_B, tf=tf_theta, xr=(-0.52, 20.3), ticks=THETA_TICKS, ticktext=THETA_TICKTEXT, minor=None,
         cols=[(2182, 2665), (2710, 3194), (3240, 3725)], rows=(206, 1097), yr=(1013, -39),
         mean=[THETA_JAN_MEAN, THETA_FEB_MEAN, THETA_MAR_MEAN], thin=[THETA_JAN_THIN, THETA_FEB_THIN, THETA_MAR_THIN],
         spread=[THETA_JAN_SPREAD, THETA_FEB_SPREAD, THETA_MAR_SPREAD]),
    dict(title="<b>(c) Relative Humidity</b>", title_xy=(1037, 1446), month_y=1548,
         xlabel="RH / %", xlabel_y=2623,
         ylabel_x=59, lev=LEV_B, tf=tf_rh, xr=(-14.9, 1.59), ticks=RH_TICKS, ticktext=RH_TICKTEXT, minor=None,
         cols=[(258, 741), (787, 1272), (1318, 1801)], rows=(1583, 2474), yr=(1013, -37),
         mean=[RH_JAN_MEAN, RH_FEB_MEAN, RH_MAR_MEAN], thin=[RH_JAN_THIN, RH_FEB_THIN, RH_MAR_THIN],
         spread=[RH_JAN_SPREAD, RH_FEB_SPREAD, RH_MAR_SPREAD]),
    dict(title="<b>(d) Cloud Cover</b>", title_xy=(2933, 1446), month_y=1548,
         xlabel="CC / %", xlabel_y=2623,
         ylabel_x=1953, lev=LEV_B, tf=tf_cc, xr=(-2, 0.53), ticks=CC_TICKS, ticktext=CC_TICKTEXT, minor=None,
         cols=[(2150, 2630), (2675, 3154), (3199, 3678)], rows=(1583, 2474), yr=(1013, -37),
         mean=[CC_JAN_MEAN, CC_FEB_MEAN, CC_MAR_MEAN], thin=[CC_JAN_THIN, CC_FEB_THIN, CC_MAR_THIN],
         spread=[CC_JAN_SPREAD, CC_FEB_SPREAD, CC_MAR_SPREAD]),
]

LEGENDS = [dict(x0=3802, x1=3947, tx=3992, ys=[504, 600, 695, 790]),
           dict(x0=3778, x1=3922, tx=3968, ys=[1883, 1980, 2076, 2172])]

fig = go.Figure()
shapes, annotations = [], []


def ann(text, x, y, size, angle=0, xanchor="center"):
    annotations.append(dict(text=text, x=x / W, y=1 - y / H, xref="paper", yref="paper",
                            xanchor=xanchor, yanchor="middle", showarrow=False, textangle=angle,
                            font=dict(family=FONT, size=size, color="black")))


k = 0
for p in panels:
    lev = p["lev"]
    tf = p["tf"]
    r0, r1 = p["rows"]
    for mi, month in enumerate(MONTHS):
        k += 1
        xa = "x" if k == 1 else f"x{k}"
        ya = "y" if k == 1 else f"y{k}"
        c0, c1 = p["cols"][mi]
        means, thins, spreads = p["mean"][mi], p["thin"][mi], p["spread"][mi]

        # shaded spread
        for si in range(4):
            m = np.array(means[si])
            s = np.array(spreads[si])
            xs = np.concatenate([tf(m - s), tf(m + s)[::-1]])
            fig.add_trace(go.Scatter(x=xs, y=lev + lev[::-1], xaxis=xa, yaxis=ya, mode="lines",
                                     fill="toself", fillcolor=rgba(COLORS[si], 0.3),
                                     line=dict(color=rgba(COLORS[si], 0.3), width=2.5),
                                     showlegend=False, hoverinfo="skip"))
        # thin profiles
        for si in range(4):
            fig.add_trace(go.Scatter(x=tf(thins[si]), y=lev, xaxis=xa, yaxis=ya, mode="lines",
                                     line=dict(color=rgba(COLORS[si], 1), width=3.5),
                                     showlegend=False, hoverinfo="skip"))
        # thick profiles, FIRE1 on top
        for si in [3, 2, 1, 0]:
            fig.add_trace(go.Scatter(x=tf(means[si]), y=lev, xaxis=xa, yaxis=ya, mode="lines",
                                     line=dict(color=rgba(COLORS[si], 1), width=15),
                                     name=SERIES[si], showlegend=False))

        xaxis = dict(domain=[c0 / W, c1 / W], anchor=ya, range=[float(tf(p["xr"][0])), float(tf(p["xr"][1]))],
                     tickmode="array", tickvals=[float(v) for v in tf(p["ticks"])], ticktext=p["ticktext"],
                     ticks="outside", ticklen=22, tickwidth=5, tickcolor="black",
                     showline=True, linewidth=5, linecolor="black", showgrid=False, zeroline=False,
                     tickfont=dict(family=FONT, size=48, color="black"))
        if p["minor"]:
            xaxis["minor"] = dict(tickmode="array", tickvals=[float(v) for v in tf(p["minor"])],
                                  ticks="outside", ticklen=13, tickwidth=4, tickcolor="black", showgrid=False)
        yaxis = dict(domain=[1 - r1 / H, 1 - r0 / H], anchor=xa, range=list(p["yr"]),
                     tickmode="array", tickvals=P_TICKS, showgrid=False, zeroline=False,
                     showline=(mi == 0), linewidth=5, linecolor="black",
                     ticks="outside" if mi == 0 else "", ticklen=22, tickwidth=5, tickcolor="black",
                     showticklabels=(mi == 0), tickfont=dict(family=FONT, size=48, color="black"))
        fig.layout["xaxis" if k == 1 else f"xaxis{k}"] = xaxis
        fig.layout["yaxis" if k == 1 else f"yaxis{k}"] = yaxis

        # grey zero line
        shapes.append(dict(type="line", xref=xa, yref=f"{ya} domain", x0=0, x1=0, y0=0, y1=1,
                           line=dict(color="#d5d5d5", width=17), layer="below"))
        ann(f"<b>{month}</b>", (c0 + c1) / 2, p["month_y"], 52)

    ann(p["title"], p["title_xy"][0], p["title_xy"][1], 64)
    mid = p["cols"][1]
    ann(p["xlabel"], (mid[0] + mid[1]) / 2, p["xlabel_y"], 52)
    ann("pressure / (hPa)", p["ylabel_x"], (r0 + r1) / 2, 52, angle=-90)

for lg in LEGENDS:
    for si, yy in enumerate(lg["ys"]):
        shapes.append(dict(type="line", xref="paper", yref="paper", x0=lg["x0"] / W, x1=lg["x1"] / W,
                           y0=1 - yy / H, y1=1 - yy / H, line=dict(color=rgba(COLORS[si], 1), width=14)))
        ann(SERIES[si], lg["tx"], yy + 2, 60, xanchor="left")

fig.update_layout(width=W, height=H, margin=dict(l=0, r=0, t=0, b=0),
                  plot_bgcolor="white", paper_bgcolor="white", showlegend=False,
                  shapes=shapes, annotations=annotations, font=dict(family=FONT, color="black"))

# fit the fixed-size figure exactly into the viewport the page is opened in
FIT_JS = (
    "document.body.style.margin='0';document.body.style.overflow='hidden';"
    "var d=document.getElementById('{plot_id}');"
    "var sx=window.innerWidth/%d, sy=window.innerHeight/%d;"
    "if(sx<1||sy<1){d.style.transformOrigin='0 0';d.style.transform='scale('+sx+','+sy+')';}" % (W, H)
)
fig.write_html("out.html", config={"displayModeBar": False}, post_script=FIT_JS)
